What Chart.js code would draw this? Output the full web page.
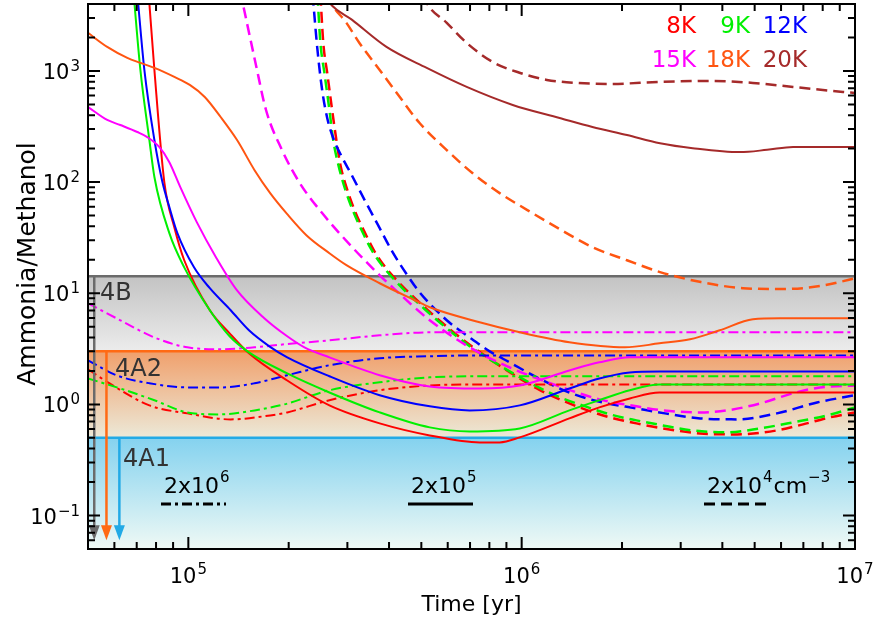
<!DOCTYPE html>
<html>
<head>
<meta charset="utf-8">
<script src="https://cdn.jsdelivr.net/npm/chart.js@4.4.0/dist/chart.umd.min.js"></script>
<style>
  html, body { margin: 0; padding: 0; background: #fff; }
</style>
</head>
<body>
<canvas id="ratio_chart" width="876" height="624"></canvas>
<script>
// axis limits
const xMin = 5e4, xMax = 1e7
const yMin = 0.05, yMax = 4000

const xTickValues = [1e5, 1e6, 1e7]
const xTickExps = ['5', '6', '7']
const yTickValues = [0.1, 1, 10, 100, 1000]
const yTickExps = ['\u22121', '0', '1', '2', '3']

const temperatures = ['8K', '9K', '12K', '15K', '18K', '20K']
const densityBases = ['2x10', '2x10', '2x10']
const densityExps = ['6', '5', '4']
const densityUnits = ['', '', 'cm']
const densityUnitExps = ['', '', '\u22123']

// observed ranges (upper limits)
const bandNames = ['4B', '4A2', '4A1']
const bandTops = [14.2, 3.0, 0.5]
const bandBottoms = [3.0, 0.5, 0.05]
const arrowTimes = [5.22e4, 5.68e4, 6.21e4]
const arrowTip = 0.06

// [time (yr), ammonia/methanol] -- n = 2x10^4 cm^-3
const n2e4_8K = [[2.49e5, 4840], [2.54e5, 1786], [2.61e5, 959], [2.7e5, 445], [2.78e5, 239], [2.86e5, 142], [3.0e5, 84.7], [3.17e5, 53.7], [3.38e5, 35.5], [3.6e5, 24.4], [3.88e5, 17.5], [4.25e5, 12.8], [4.68e5, 9.59], [5.19e5, 7.18], [5.75e5, 5.48], [6.47e5, 4.1], [7.23e5, 3.19], [8.13e5, 2.49], [9.33e5, 1.9], [1.11e6, 1.39], [1.3e6, 1.11], [1.52e6, 0.92], [1.84e6, 0.764], [2.21e6, 0.675], [2.65e6, 0.608], [3.43e6, 0.548], [4.43e6, 0.537], [5.83e6, 0.583], [6.98e6, 0.661], [8.41e6, 0.764], [1e7, 0.847]]
const n2e4_9K = [[2.44e5, 4840], [2.49e5, 1786], [2.56e5, 959], [2.65e5, 445], [2.72e5, 239], [2.82e5, 142], [2.96e5, 84.7], [3.13e5, 53.7], [3.33e5, 35.5], [3.55e5, 24.4], [3.83e5, 17.5], [4.19e5, 12.8], [4.61e5, 9.59], [5.12e5, 7.18], [5.67e5, 5.48], [6.38e5, 4.1], [7.13e5, 3.19], [8.02e5, 2.54], [9.2e5, 1.98], [1.11e6, 1.45], [1.3e6, 1.16], [1.52e6, 0.98], [1.84e6, 0.813], [2.21e6, 0.718], [2.65e6, 0.647], [3.26e6, 0.583], [4.13e6, 0.56], [5.19e6, 0.608], [6.52e6, 0.689], [8.24e6, 0.796], [1e7, 0.94]]
const n2e4_12K = [[2.36e5, 4840], [2.44e5, 1545], [2.52e5, 674], [2.61e5, 377], [2.72e5, 249], [2.88e5, 171], [3.08e5, 118], [3.38e5, 68.9], [3.75e5, 38.5], [4.1e5, 23.4], [4.52e5, 14.8], [4.94e5, 10.2], [5.96e5, 5.71], [6.98e5, 4.0], [8.02e5, 3.0], [9.2e5, 2.39], [1.11e6, 1.75], [1.39e6, 1.28], [1.75e6, 1.04], [2.21e6, 0.92], [2.69e6, 0.83], [3.43e6, 0.748], [4.43e6, 0.733], [5.83e6, 0.83], [7.69e6, 1.04], [1e7, 1.21]]
const n2e4_15K = [[1.43e5, 5250], [1.6e5, 1086], [1.71e5, 445], [1.91e5, 194], [2.15e5, 100], [2.52e5, 52.6], [3.1e5, 26], [3.75e5, 14.5], [4.1e5, 11.3], [5.3e5, 5.71], [6.98e5, 3.26], [9.2e5, 2.15], [1.3e6, 1.45], [1.71e6, 1.11], [2.21e6, 0.96], [2.65e6, 0.883], [3.43e6, 0.847], [4.13e6, 0.883], [5.19e6, 1.02], [6.52e6, 1.26], [7.85e6, 1.42], [1e7, 1.48]]
const n2e4_18K = [[2.61e5, 4840], [2.7e5, 3935], [2.98e5, 2706], [3.26e5, 1786], [3.75e5, 1020], [4.22e5, 634], [4.94e5, 340], [5.96e5, 194], [7.13e5, 120], [8.59e5, 79.6], [1.04e6, 56], [1.27e6, 39.3], [1.63e6, 26], [2.07e6, 19.8], [2.6e6, 15.5], [3.45e6, 12.6], [4.61e6, 11.1], [6.08e6, 10.9], [7.85e6, 11.6], [1e7, 13.6]]
const n2e4_20K = [[5.08e5, 4840], [5.19e5, 4100], [5.96e5, 2706], [6.84e5, 1786], [8.18e5, 1205], [9.9e5, 959], [1.19e6, 830], [1.46e6, 780], [1.84e6, 764], [2.6e6, 796], [3.67e6, 813], [4.94e6, 780], [6.52e6, 718], [9.2e6, 647], [1e7, 634]]

// n = 2x10^5 cm^-3
const n2e5_8K = [[7.6e4, 5000], [7.91e4, 1020], [8.47e4, 100], [9.08e4, 39], [9.72e4, 19.8], [1.16e5, 7.03], [1.33e5, 4.36], [1.52e5, 2.88], [1.98e5, 1.64], [2.65e5, 0.98], [3.75e5, 0.675], [5.3e5, 0.526], [7.48e5, 0.455], [8.59e5, 0.455], [9.87e5, 0.505], [1.39e6, 0.748], [1.71e6, 0.94], [2.11e6, 1.13], [2.59e6, 1.28], [1e7, 1.28]]
const n2e5_9K = [[6.85e4, 5000], [7.18e4, 1020], [7.64e4, 239], [7.91e4, 111], [8.77e4, 34.7], [9.72e4, 17.1], [1.16e5, 7.03], [1.33e5, 4.1], [1.52e5, 2.94], [1.98e5, 1.9], [2.65e5, 1.28], [3.75e5, 0.847], [5.3e5, 0.621], [6.98e5, 0.571], [9.87e5, 0.608], [1.39e6, 0.883], [1.71e6, 1.09], [2.11e6, 1.34], [2.59e6, 1.51], [1e7, 1.51]]
const n2e5_12K = [[7.03e4, 4900], [7.38e4, 1020], [7.91e4, 239], [8.36e4, 100], [8.77e4, 59.6], [9.27e4, 34.7], [1.04e5, 17.1], [1.16e5, 11.1], [1.34e5, 7.03], [1.52e5, 4.64], [1.75e5, 3.33], [1.98e5, 2.65], [2.65e5, 1.79], [3.75e5, 1.21], [5.3e5, 0.96], [6.98e5, 0.883], [9.87e5, 0.98], [1.39e6, 1.39], [1.71e6, 1.71], [2.11e6, 1.94], [2.59e6, 1.98], [1e7, 1.98]]
const n2e5_15K = [[5e4, 474], [5.71e4, 362], [6.25e4, 326], [7.03e4, 282], [7.53e4, 254], [8.18e4, 207], [8.77e4, 151], [9.46e4, 90], [1.06e5, 43.6], [1.21e5, 21.1], [1.4e5, 10.6], [1.69e5, 5.96], [1.98e5, 4.1], [2.23e5, 3.26], [2.65e5, 2.65], [3.75e5, 1.83], [5.3e5, 1.45], [7.48e5, 1.39], [9.87e5, 1.48], [1.39e6, 2.02], [1.71e6, 2.39], [2.11e6, 2.65], [1e7, 2.65]]
const n2e5_18K = [[5e4, 2200], [5.71e4, 1644], [6.56e4, 1309], [7.18e4, 1180], [7.91e4, 1064], [9.08e4, 883], [1.01e5, 748], [1.12e5, 583], [1.25e5, 385], [1.4e5, 239], [1.58e5, 128], [1.76e5, 79.6], [1.98e5, 51.5], [2.26e5, 33.3], [2.65e5, 22.9], [2.98e5, 17.9], [3.75e5, 12.3], [4.78e5, 8.65], [5.3e5, 7.48], [7.48e5, 5.48], [9.87e5, 4.45], [1.39e6, 3.62], [2.04e6, 3.26], [2.59e6, 3.54], [3.2e6, 3.85], [3.93e6, 4.64], [4.94e6, 5.83], [5.96e6, 5.95], [1e7, 5.95]]
const n2e5_20K = [[2.55e5, 5000], [2.65e5, 4100], [3.1e5, 2880], [3.93e5, 1645], [5.19e5, 1064], [6.84e5, 718], [9.4e5, 494], [1.3e6, 377], [1.63e6, 313], [2.07e6, 265], [2.6e6, 224], [3.26e6, 202], [4.52e6, 186], [5.45e6, 195], [6.52e6, 207], [1e7, 207]]

// n = 2x10^6 cm^-3
const n2e6_8K = [[5e4, 2.07], [5.79e4, 1.55], [7.64e4, 0.98], [9.93e4, 0.83], [1.34e5, 0.733], [1.76e5, 0.796], [1.98e5, 0.847], [2.65e5, 1.09], [3.75e5, 1.34], [5.3e5, 1.48], [7.48e5, 1.51], [1e7, 1.51]]
const n2e6_9K = [[5e4, 1.71], [6.25e4, 1.39], [7.91e4, 1.09], [9.93e4, 0.847], [1.25e5, 0.813], [1.58e5, 0.883], [1.94e5, 1.0], [2.65e5, 1.34], [3.75e5, 1.58], [5.3e5, 1.75], [7.48e5, 1.79], [1e7, 1.79]]
const n2e6_12K = [[5e4, 2.49], [6.08e4, 1.83], [7.64e4, 1.55], [1.01e5, 1.42], [1.25e5, 1.42], [1.58e5, 1.55], [1.98e5, 1.83], [2.65e5, 2.25], [3.75e5, 2.6], [5.3e5, 2.71], [7.48e5, 2.76], [1e7, 2.76]]
const n2e6_15K = [[5e4, 8.12], [6.25e4, 5.71], [7.91e4, 4.0], [9.93e4, 3.26], [1.25e5, 3.13], [1.58e5, 3.26], [1.94e5, 3.47], [2.65e5, 3.77], [3.75e5, 4.18], [5.3e5, 4.45], [7.48e5, 4.45], [1e7, 4.45]]

// drawing order: dashed, dash-dot, then solid on top
const seriesList = [
  [0, 0, n2e4_8K], [1, 0, n2e4_9K], [2, 0, n2e4_12K], [3, 0, n2e4_15K], [4, 0, n2e4_18K], [5, 0, n2e4_20K],
  [0, 2, n2e6_8K], [1, 2, n2e6_9K], [2, 2, n2e6_12K], [3, 2, n2e6_15K],
  [0, 1, n2e5_8K], [1, 1, n2e5_9K], [2, 1, n2e5_12K], [3, 1, n2e5_15K], [4, 1, n2e5_18K], [5, 1, n2e5_20K],
]

const tempColors = ['#ff0000', '#00f000', '#0000ff', '#ff00ff', '#ff5511', '#a52a2a']
const dashes = [[11, 6], [], [10, 4, 3, 4]]   // 2e4, 2e5, 2e6
const widths = [2.5, 2, 2]
const bandStyles = [
  { from: '#c3c3c3', to: '#ececec', edge: '#6b6b6b' },
  { from: '#f0a06c', to: '#ece9d8', edge: '#ff6a14' },
  { from: '#84d2ef', to: '#eff9f5', edge: '#22aae6' },
]
const FONT = "'DejaVu Sans', sans-serif"

function drawPow(ctx, base, exp, x, y, size, supSize, rise) {
  ctx.textAlign = 'left'
  ctx.font = size + 'px ' + FONT
  ctx.fillText(base, x, y)
  const w = ctx.measureText(base).width
  ctx.font = supSize + 'px ' + FONT
  ctx.fillText(exp, x + w + 1, y - rise)
  return x + w + 1 + ctx.measureText(exp).width
}

function powWidth(ctx, base, exp, size, supSize) {
  ctx.font = size + 'px ' + FONT
  const w = ctx.measureText(base).width
  ctx.font = supSize + 'px ' + FONT
  return w + 1 + ctx.measureText(exp).width
}

function logSteps(min, max) {
  const out = []
  for (let e = Math.floor(Math.log10(min)); e <= Math.ceil(Math.log10(max)); e++) {
    for (let m = 1; m < 10; m++) {
      const v = m * Math.pow(10, e)
      if (v >= min * 0.999 && v <= max * 1.001) out.push({ v, major: m === 1 })
    }
  }
  return out
}

const decorations = {
  id: 'decorations',
  beforeDatasetsDraw(chart) {
    const { ctx, chartArea: a, scales: { y } } = chart
    ctx.save()
    ctx.beginPath(); ctx.rect(a.left, a.top, a.width, a.height); ctx.clip()
    bandNames.forEach((name, i) => {
      const top = y.getPixelForValue(bandTops[i])
      const bottom = Math.min(y.getPixelForValue(bandBottoms[i]), a.bottom)
      const g = ctx.createLinearGradient(0, top, 0, bottom)
      g.addColorStop(0, bandStyles[i].from)
      g.addColorStop(1, bandStyles[i].to)
      ctx.fillStyle = g
      ctx.fillRect(a.left, top, a.width, bottom - top)
    })
    bandNames.forEach((name, i) => {
      const top = y.getPixelForValue(bandTops[i])
      ctx.strokeStyle = bandStyles[i].edge
      ctx.lineWidth = 2.5
      ctx.beginPath(); ctx.moveTo(a.left, top); ctx.lineTo(a.right, top); ctx.stroke()
    })
    ctx.restore()
  },
  afterDatasetsDraw(chart) {
    const { ctx, chartArea: a, scales: { x, y } } = chart
    ctx.save()
    // upper-limit arrows
    arrowTimes.forEach((t, i) => {
      const px = x.getPixelForValue(t)
      const top = y.getPixelForValue(bandTops[i])
      const tip = y.getPixelForValue(arrowTip)
      ctx.strokeStyle = bandStyles[i].edge
      ctx.fillStyle = bandStyles[i].edge
      ctx.lineWidth = 2.5
      ctx.beginPath(); ctx.moveTo(px, top); ctx.lineTo(px, tip - 10); ctx.stroke()
      ctx.beginPath()
      ctx.moveTo(px - 5.5, tip - 15); ctx.lineTo(px + 5.5, tip - 15); ctx.lineTo(px, tip)
      ctx.closePath(); ctx.fill()
    })
    // band labels
    ctx.fillStyle = '#333'
    ctx.font = '24px ' + FONT
    ctx.textAlign = 'left'
    const labelDx = [12, 27, 35], labelDy = [24, 25, 28]
    bandNames.forEach((name, i) => {
      ctx.fillText(name, a.left + labelDx[i], y.getPixelForValue(bandTops[i]) + labelDy[i])
    })

    // frame and inward ticks
    ctx.strokeStyle = '#000'
    ctx.lineWidth = 2
    ctx.strokeRect(a.left, a.top, a.width, a.height)
    logSteps(xMin, xMax).forEach(s => {
      const px = x.getPixelForValue(s.v)
      const len = s.major ? 12 : 7
      ctx.beginPath()
      ctx.moveTo(px, a.bottom); ctx.lineTo(px, a.bottom - len)
      ctx.moveTo(px, a.top); ctx.lineTo(px, a.top + len)
      ctx.stroke()
    })
    logSteps(yMin, yMax).forEach(s => {
      const py = y.getPixelForValue(s.v)
      const len = s.major ? 12 : 7
      ctx.beginPath()
      ctx.moveTo(a.left, py); ctx.lineTo(a.left + len, py)
      ctx.moveTo(a.right, py); ctx.lineTo(a.right - len, py)
      ctx.stroke()
    })

    // tick labels
    ctx.fillStyle = '#000'
    xTickValues.forEach((v, i) => {
      const px = x.getPixelForValue(v)
      const w = powWidth(ctx, '10', xTickExps[i], 21, 15)
      drawPow(ctx, '10', xTickExps[i], px - w / 2, a.bottom + 34, 21, 15, 9)
    })
    yTickValues.forEach((v, i) => {
      const py = y.getPixelForValue(v)
      const w = powWidth(ctx, '10', yTickExps[i], 21, 15)
      drawPow(ctx, '10', yTickExps[i], a.left - 8 - w, py + 8, 21, 15, 8)
    })

    // temperature colour key
    ctx.font = '23px ' + FONT
    ctx.textAlign = 'right'
    const colRight = [-159, -105, -48]
    temperatures.forEach((label, i) => {
      ctx.fillStyle = tempColors[i]
      ctx.fillText(label, a.right + colRight[i % 3], a.top + (i < 3 ? 29 : 63))
    })

    // density line-style key
    ctx.fillStyle = '#000'
    const keyDx = [76, 323, 619]
    const keyDash = [2, 1, 0]
    densityBases.forEach((base, i) => {
      const left = a.left + keyDx[i]
      const end = drawPow(ctx, base, densityExps[i], left, a.bottom - 56, 22, 15, 11)
      if (densityUnits[i]) drawPow(ctx, densityUnits[i], densityUnitExps[i], end + 1, a.bottom - 56, 22, 15, 11)
      ctx.strokeStyle = '#000'
      ctx.lineWidth = 3
      ctx.setLineDash(dashes[keyDash[i]])
      ctx.beginPath(); ctx.moveTo(left - 3, a.bottom - 45); ctx.lineTo(left + 62, a.bottom - 45); ctx.stroke()
      ctx.setLineDash([])
    })

    // axis titles
    ctx.font = '22px ' + FONT
    ctx.textAlign = 'center'
    ctx.fillText('Time [yr]', (a.left + a.right) / 2, 611)
    ctx.translate(35, 264)
    ctx.rotate(-Math.PI / 2)
    ctx.font = '25px ' + FONT
    ctx.fillText('Ammonia/Methanol', 0, 0)
    ctx.restore()
  }
}

const datasets = seriesList.map(([ti, di, pts], i) => ({
  label: temperatures[ti] + ' ' + densityBases[di] + densityExps[di],
  data: pts.map(p => ({ x: p[0], y: p[1] })),
  borderColor: tempColors[ti],
  borderWidth: widths[di],
  borderDash: dashes[di],
  pointRadius: 0,
  fill: false,
  clip: 0,
  order: -i,
}))

new Chart(document.getElementById('ratio_chart'), {
  type: 'line',
  data: { datasets },
  options: {
    responsive: false,
    animation: false,
    layout: { padding: { top: 4, right: 21, left: 0, bottom: 0 } },
    elements: { line: { cubicInterpolationMode: 'monotone' } },
    plugins: { legend: { display: false }, tooltip: { enabled: false } },
    scales: {
      x: {
        type: 'logarithmic', min: xMin, max: xMax,
        grid: { display: false }, border: { display: false }, ticks: { display: false },
        afterFit: s => { s.height = 75 },
      },
      y: {
        type: 'logarithmic', min: yMin, max: yMax,
        grid: { display: false }, border: { display: false }, ticks: { display: false },
        afterFit: s => { s.width = 88 },
      },
    },
  },
  plugins: [decorations],
})
</script>
</body>
</html>
